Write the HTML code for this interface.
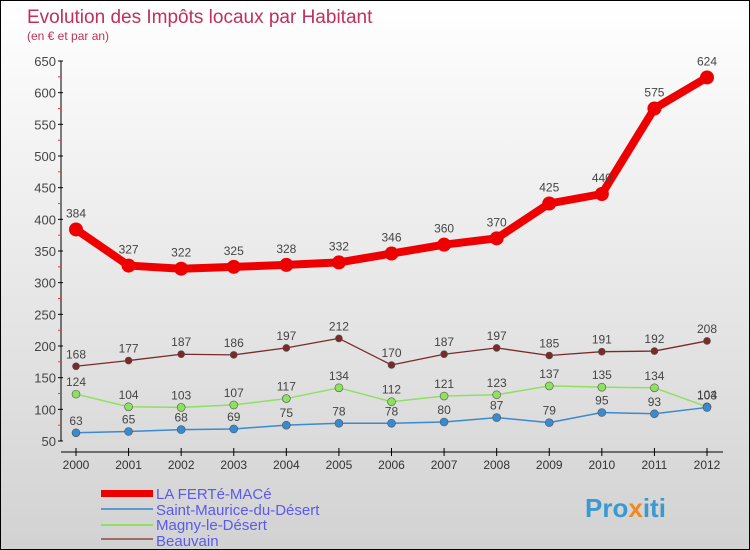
<!DOCTYPE html>
<html><head><meta charset="utf-8"><style>
body{margin:0}
#c{width:748px;height:548px;border:1px solid #000;background:linear-gradient(#fff,#d2d2d2);position:relative;font-family:"Liberation Sans",sans-serif;overflow:hidden}
</style></head><body>
<div id="c">
<svg id="s" width="748" height="548" xmlns="http://www.w3.org/2000/svg">
<text x="26" y="22" font-size="19" fill="#c0305a">Evolution des Impôts locaux par Habitant</text>
<text x="26" y="39" font-size="12" fill="#c0305a">(en € et par an)</text>
<g id="axes"></g><g id="series"></g>
<g>
<rect x="100" y="489" width="52" height="7" fill="#e00"/>
<text x="155" y="498" font-size="15" fill="#5a5af0">LA FERTé-MACé</text>
<rect x="100" y="507" width="52" height="2" fill="#5a9ad0"/>
<text x="155" y="514" font-size="15" fill="#5a5af0">Saint-Maurice-du-Désert</text>
<rect x="100" y="523" width="52" height="2" fill="#8ee060"/>
<text x="155" y="529" font-size="15" fill="#5a5af0">Magny-le-Désert</text>
<rect x="100" y="537" width="52" height="2" fill="#a06a6a"/>
<text x="155" y="545" font-size="15" fill="#5a5af0">Beauvain</text>
</g>
<text x="584" y="516" font-size="26" font-weight="bold" fill="#3a9ad0">Pro<tspan fill="#f08a20">x</tspan>iti</text>
</svg></div>
<script>
const years=[2000,2001,2002,2003,2004,2005,2006,2007,2008,2009,2010,2011,2012];
const yTicks=[50,100,150,200,250,300,350,400,450,500,550,600,650];
const ferte=[384,327,322,325,328,332,346,360,370,425,440,575,624];
const stMaurice=[63,65,68,69,75,78,78,80,87,79,95,93,103];
const magny=[124,104,103,107,117,134,112,121,123,137,135,134,104];
const beauvain=[168,177,187,186,197,212,170,187,197,185,191,192,208];
const NS="http://www.w3.org/2000/svg";
const X=i=>75+i*(706-75)/(years.length-1);
const Y=v=>440-(v-50)*380/600;
function mk(t,a,p){const e=document.createElementNS(NS,t);for(const k in a)e.setAttribute(k,a[k]);p.appendChild(e);return e;}
const ax=document.getElementById('axes');
mk('line',{x1:60,y1:60,x2:60,y2:440,stroke:'#000'},ax);
mk('line',{x1:60,y1:451,x2:722,y2:451,stroke:'#000'},ax);
yTicks.forEach(v=>{
 mk('line',{x1:57,y1:Y(v),x2:62,y2:Y(v),stroke:'#000'},ax);
 if(v<650)mk('line',{x1:57,y1:Y(v+25),x2:60,y2:Y(v+25),stroke:'#f33'},ax);
 const t=mk('text',{x:55,y:Y(v)+5,'font-size':13,'text-anchor':'end',fill:'#444'},ax);t.textContent=v;
 
 
});
years.forEach((y,i)=>{
 mk('line',{x1:X(i),y1:447,x2:X(i),y2:455,stroke:'#000'},ax);
 const t=mk('text',{x:X(i),y:468,'font-size':12,'text-anchor':'middle',fill:'#333'},ax);t.textContent=y;
 
 
});
const sg=document.getElementById('series');
function draw(vals,col,w,r,name){
 const g=mk('g',{},sg);
 
 
 mk('polyline',{points:vals.map((v,i)=>X(i)+','+Y(v)).join(' '),fill:'none',stroke:col,'stroke-width':w,'stroke-linejoin':'round'},g);
 vals.forEach((v,i)=>{
  const c=mk('circle',{cx:X(i),cy:Y(v),r:r,fill:col,stroke:'#555','stroke-width':w>3?0:0.6},g);
  
  
  const t=mk('text',{x:X(i),y:Y(v)-(w>3?12:8),'font-size':12,'text-anchor':'middle',fill:'#444'},g);t.textContent=v;
  
  
 });
}
draw(beauvain,'#7a2a2a',1.3,3.5,'beauvain');
draw(magny,'#8ee060',1.5,4,'magny');
draw(stMaurice,'#3a8ad0',1.5,4,'saint-maurice');
draw(ferte,'#ee0000',8,7,'la-ferte-mace');
</script>
</body></html>
